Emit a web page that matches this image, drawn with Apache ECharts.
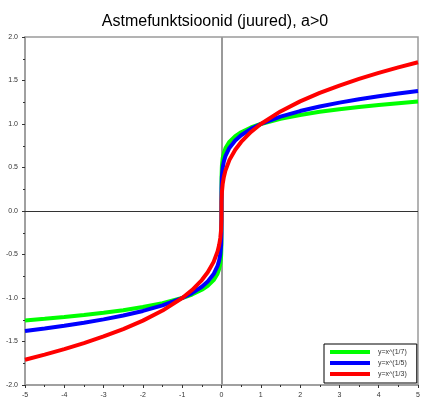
<!DOCTYPE html>
<html>
<head>
<meta charset="utf-8">
<script src="https://cdn.jsdelivr.net/npm/echarts@6/dist/echarts.min.js"></script>
<style>
  html, body { margin: 0; padding: 0; background: #fff; }
  #chart { width: 425px; height: 402px; }
</style>
</head>
<body>
<div id="chart"></div>
<script>
// Sample points (x) shared by all three curves
const xs = [-5, -4.5, -4, -3.5, -3, -2.5, -2, -1.5, -1, -0.75, -0.5, -0.35, -0.2, -0.1, -0.06, -0.03, -0.01, -0.001, 0,
            0.001, 0.01, 0.03, 0.06, 0.1, 0.2, 0.35, 0.5, 0.75, 1, 1.5, 2, 2.5, 3, 3.5, 4, 4.5, 5];

// y = x^(1/7)
const root7 = [-1.2585, -1.2397, -1.2190, -1.1960, -1.1699, -1.1399, -1.1041, -1.0596, -1, -0.9597, -0.9057, -0.8607, -0.7946, -0.7197, -0.6690, -0.6060, -0.5179, -0.3728, 0,
               0.3728, 0.5179, 0.6060, 0.6690, 0.7197, 0.7946, 0.8607, 0.9057, 0.9597, 1, 1.0596, 1.1041, 1.1399, 1.1699, 1.1960, 1.2190, 1.2397, 1.2585];

// y = x^(1/5)
const root5 = [-1.3797, -1.3510, -1.3195, -1.2847, -1.2457, -1.2011, -1.1487, -1.0845, -1, -0.9441, -0.8706, -0.8106, -0.7248, -0.6310, -0.5697, -0.4959, -0.3981, -0.2512, 0,
               0.2512, 0.3981, 0.4959, 0.5697, 0.6310, 0.7248, 0.8106, 0.8706, 0.9441, 1, 1.0845, 1.1487, 1.2011, 1.2457, 1.2847, 1.3195, 1.3510, 1.3797];

// y = x^(1/3)
const root3 = [-1.7100, -1.6510, -1.5874, -1.5183, -1.4422, -1.3572, -1.2599, -1.1447, -1, -0.9086, -0.7937, -0.7047, -0.5848, -0.4642, -0.3915, -0.3107, -0.2154, -0.1, 0,
               0.1, 0.2154, 0.3107, 0.3915, 0.4642, 0.5848, 0.7047, 0.7937, 0.9086, 1, 1.1447, 1.2599, 1.3572, 1.4422, 1.5183, 1.5874, 1.6510, 1.7100];

const seriesNames = ['y=x^(1/7)', 'y=x^(1/5)', 'y=x^(1/3)'];
const seriesColors = ['#00ff00', '#0000ff', '#ff0000'];
const seriesValues = [root7, root5, root3];

const pairs = (ys) => xs.map((x, i) => [x, ys[i]]);

const axisGrey = '#9a9a9a';
const labelStyle = { fontFamily: 'Liberation Sans, Arial, sans-serif', fontSize: 7, color: '#333' };

const chart = echarts.init(document.getElementById('chart'), null, { renderer: 'canvas' });

const series = seriesValues.map((ys, k) => ({
  name: seriesNames[k],
  type: 'line',
  data: pairs(ys),
  showSymbol: false,
  symbol: 'none',
  z: 3,
  lineStyle: { color: seriesColors[k], width: 4 },
  itemStyle: { color: seriesColors[k] }
}));

// Zero lines through the origin, kept beneath the curves
series[0].markLine = {
  silent: true,
  symbol: 'none',
  z: 1,
  label: { show: false },
  data: [
    { xAxis: 0, lineStyle: { color: axisGrey, width: 2, type: 'solid' } },
    { yAxis: 0, lineStyle: { color: '#333', width: 1, type: 'solid' } }
  ]
};

chart.setOption({
  animation: false,
  backgroundColor: '#fff',
  title: {
    text: 'Astmefunktsioonid (juured), a>0',
    left: 210,
    textAlign: 'center',
    top: 9,
    textStyle: { fontFamily: 'Liberation Sans, Arial, sans-serif', fontSize: 16, fontWeight: 'normal', color: '#000' }
  },
  grid: {
    left: 25, right: 7, top: 37, bottom: 17,
    show: true, borderColor: axisGrey, borderWidth: 1.5
  },
  legend: {
    data: seriesNames,
    orient: 'vertical',
    left: 324,
    top: 344,
    padding: [4, 10, 5, 6],
    itemGap: 3,
    itemWidth: 40,
    itemHeight: 4,
    icon: 'rect',
    backgroundColor: '#fff',
    borderColor: '#000',
    borderWidth: 1,
    borderRadius: 0,
    textStyle: Object.assign({}, labelStyle, { lineHeight: 8, padding: [0, 0, 0, 3] })
  },
  xAxis: {
    type: 'value',
    min: -5, max: 5, interval: 1,
    splitLine: { show: false },
    axisLine: { show: true, onZero: false, lineStyle: { color: axisGrey, width: 1.5 } },
    axisTick: { show: true, inside: false, length: 3, lineStyle: { color: '#333' } },
    minorTick: { show: true, splitNumber: 2, length: 2, lineStyle: { color: '#333' } },
    axisLabel: Object.assign({}, labelStyle, { margin: 7 })
  },
  yAxis: {
    type: 'value',
    min: -2, max: 2, interval: 0.5,
    splitLine: { show: false },
    axisLine: { show: true, onZero: false, lineStyle: { color: axisGrey, width: 1.5 } },
    axisTick: { show: true, inside: false, length: 3, lineStyle: { color: '#333' } },
    minorTick: { show: true, splitNumber: 2, length: 2, lineStyle: { color: '#333' } },
    axisLabel: Object.assign({}, labelStyle, { margin: 7, formatter: (v) => v.toFixed(1) })
  },
  series: series
});
</script>
</body>
</html>
